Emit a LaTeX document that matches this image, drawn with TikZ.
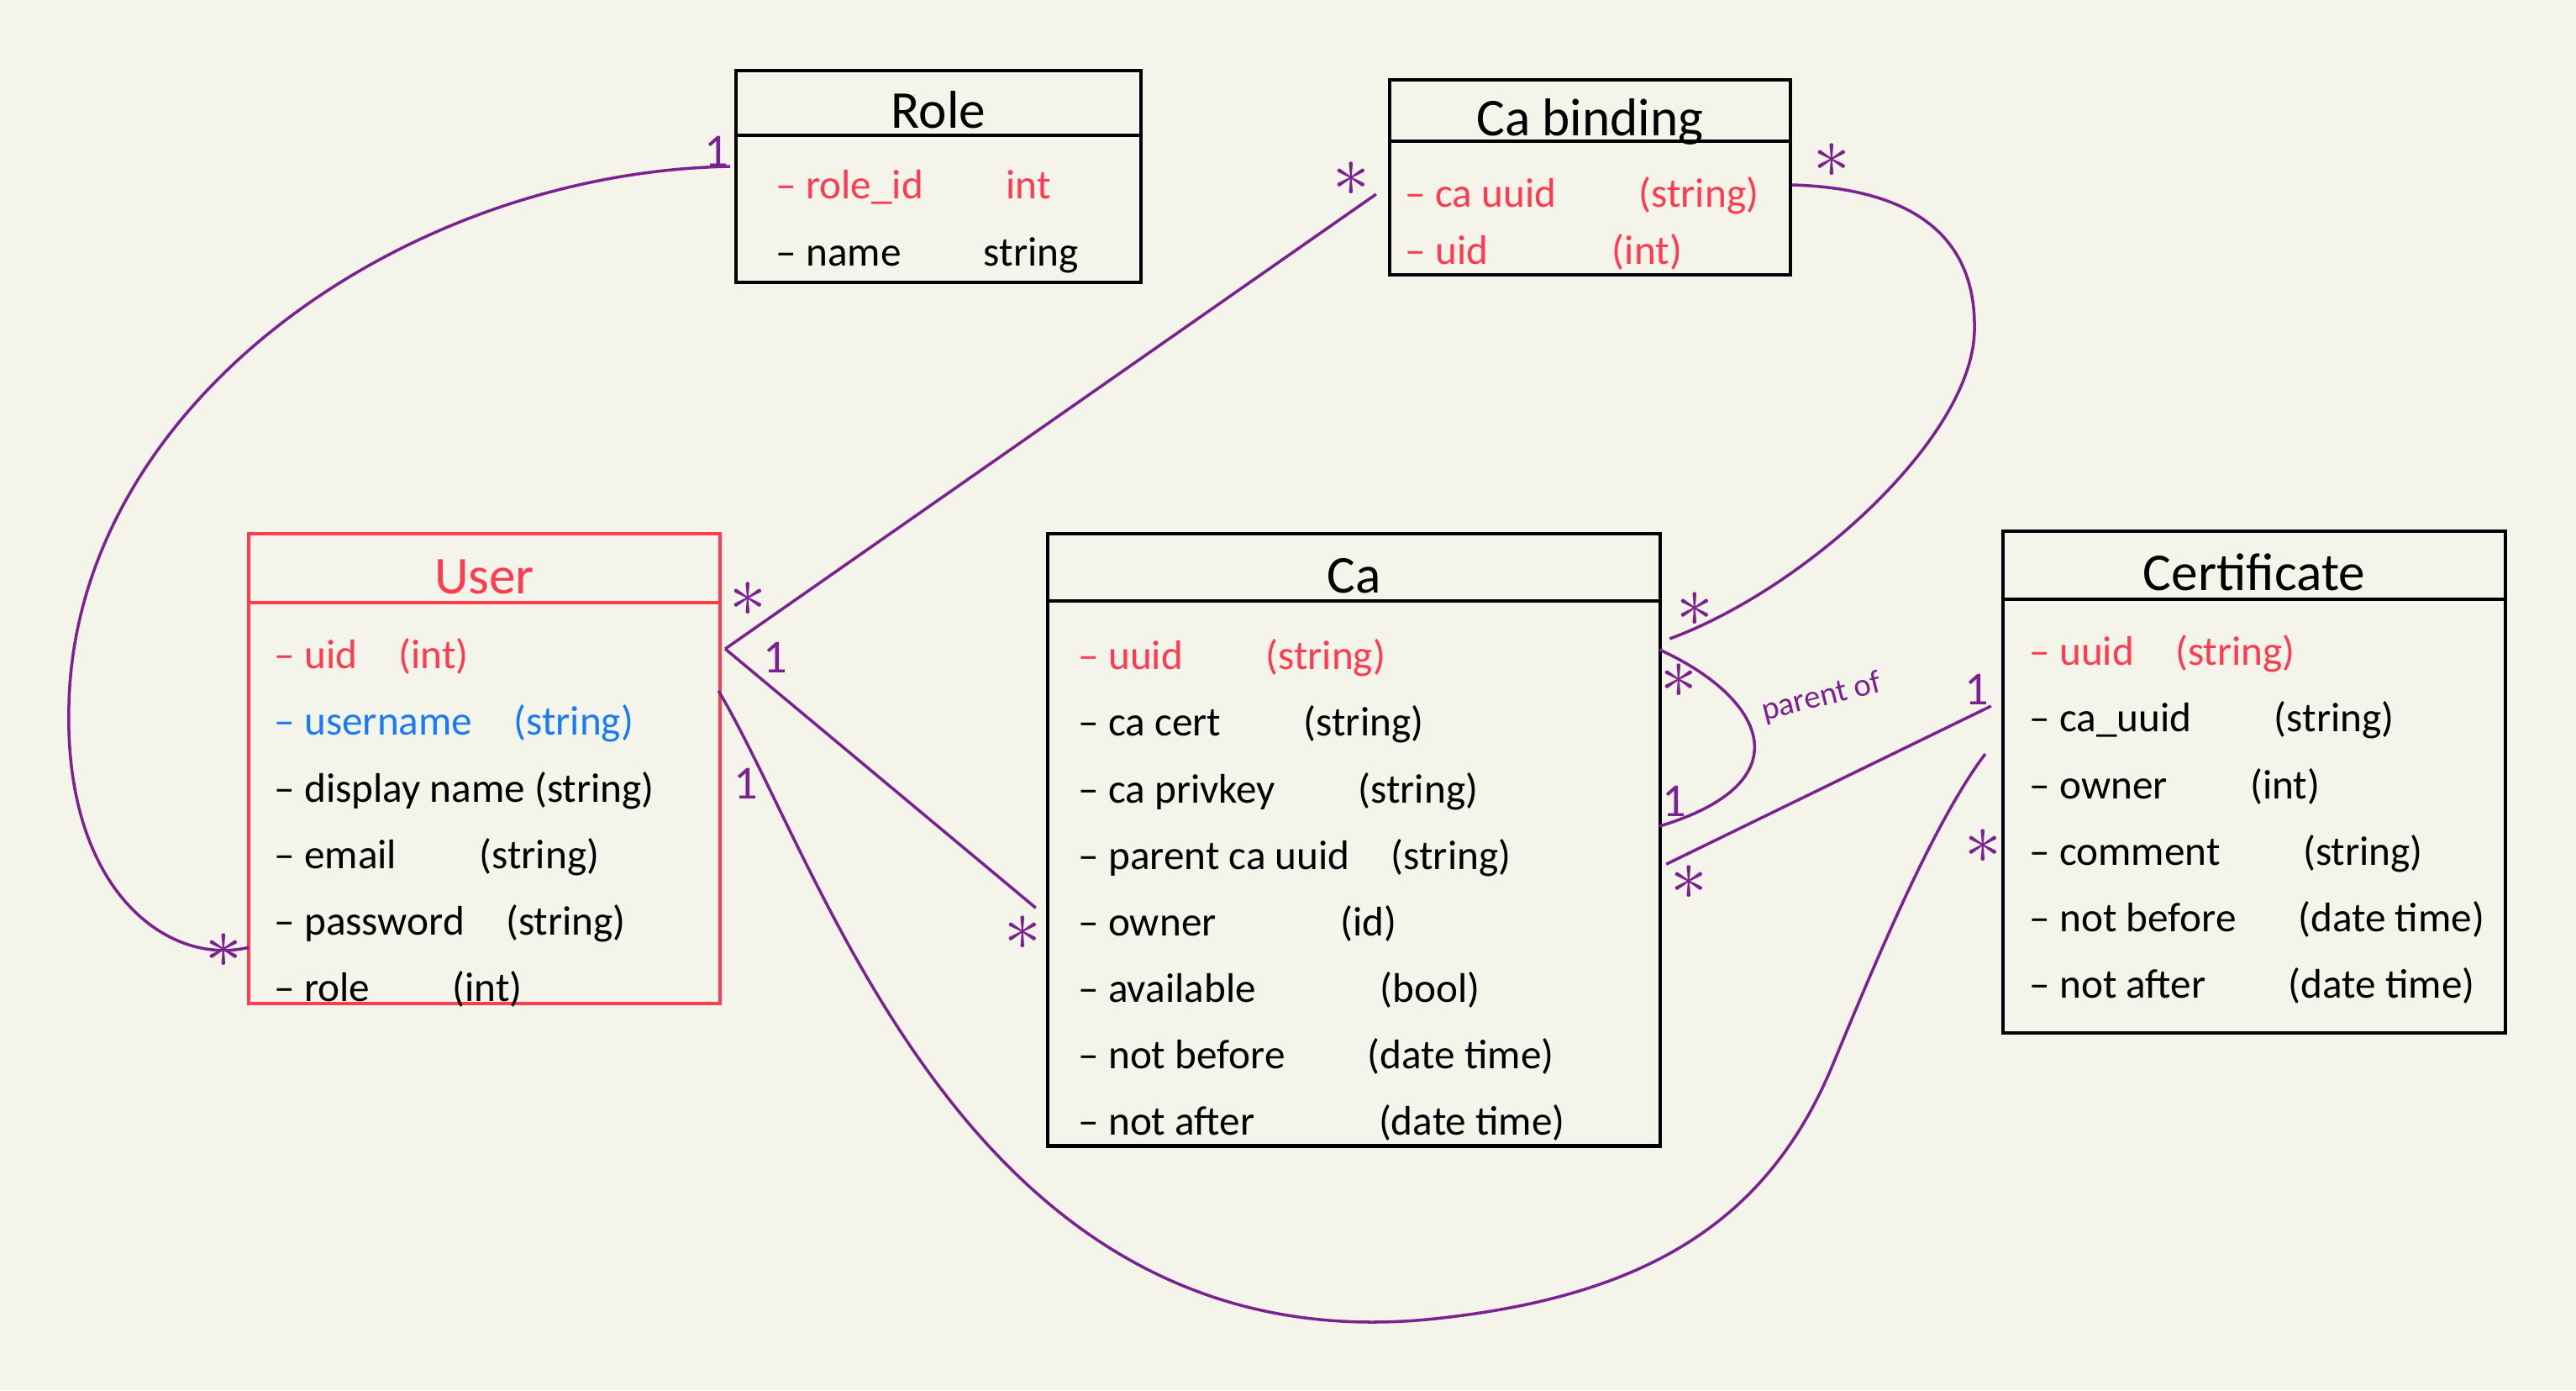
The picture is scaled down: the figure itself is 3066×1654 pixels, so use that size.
\documentclass[tikz,border=0pt]{standalone}
\usepackage{fontspec}
\setmainfont{Carlito}
\usetikzlibrary{positioning}

\definecolor{paper}{HTML}{F5F4EA}
\definecolor{keyred}{HTML}{FF3B4F}
\definecolor{uniqueblue}{HTML}{1A7CF5}
\definecolor{linkpurple}{HTML}{7B2290}

\begin{document}
\begin{tikzpicture}
[x=0.01cm, y=-0.01cm,
% STYLES
% The entityhead style is used to draw the name of each table
entityhead/.style={rectangle, draw, line width=1.2pt, outer sep=0pt, inner ysep=0pt, text height=0.6cm, text depth=0pt, font=\fontsize{18}{20}\selectfont},
% The entitybody style is used to draw the box holding the fields
entitybody/.style={rectangle, draw, line width=1.2pt, outer sep=0pt},
% The fields style is used to write the columns of a table
fields/.style={inner sep=0pt, align=left, font=\fontsize{14}{22.5}\selectfont},
% The relation style is used to draw the links between tables
relation/.style={linkpurple, line width=1pt},
% The onemark and manymark styles are used to write the multiplicities
onemark/.style={text=linkpurple, inner sep=0pt, font=\fontsize{16}{18}\selectfont},
manymark/.style={text=linkpurple, inner sep=0pt, font=\Huge}]

\useasboundingbox[fill=paper] (0,0) rectangle (3066,1654);

% Draw tables
\node [entityhead, minimum width=4.82cm, minimum height=0.77cm] (role-head) at (1117,122.5) {Role};
\node [entitybody, minimum width=4.82cm, minimum height=1.75cm, below=0pt of role-head] (role-body) {};

\node [entityhead, minimum width=4.77cm, minimum height=0.73cm] (cab-head) at (1892.5,131.5) {Ca binding};
\node [entitybody, minimum width=4.77cm, minimum height=1.59cm, below=0pt of cab-head] (cab-body) {};

\node [entityhead, draw=keyred, text=keyred, minimum width=5.61cm, minimum height=0.82cm] (user-head) at (576.5,676) {User};
\node [entitybody, draw=keyred, minimum width=5.61cm, minimum height=4.77cm, below=0pt of user-head] (user-body) {};

\node [entityhead, minimum width=7.29cm, minimum height=0.80cm] (ca-head) at (1611.5,675) {Ca};
\node [entitybody, minimum width=7.29cm, minimum height=6.48cm, below=0pt of ca-head] (ca-body) {};

\node [entityhead, minimum width=5.98cm, minimum height=0.81cm] (cert-head) at (2683,672.5) {Certificate};
\node [entitybody, minimum width=5.98cm, minimum height=5.16cm, below=0pt of cert-head] (cert-body) {};

% Draw fields
\node [fields, below right=0.41cm and 0.47cm of role-body.north west] (role-fields) {\textcolor{keyred}{– role\_id\quad\quad int}\\
– name\quad\quad string};

\node [fields, font=\fontsize{14}{19.4}\selectfont, text=keyred, below right=0.42cm and 0.18cm of cab-body.north west] (cab-fields) {– ca uuid\quad\quad (string)\\
– uid\quad\quad\quad (int)};

\node [fields, below right=0.42cm and 0.30cm of user-body.north west] (user-fields) {\textcolor{keyred}{– uid\quad (int)}\\
\textcolor{uniqueblue}{– username\quad (string)}\\
– display name (string)\\
– email\quad\quad (string)\\
– password\quad (string)\\
– role\quad\quad (int)};

\node [fields, below right=0.45cm and 0.36cm of ca-body.north west] (ca-fields) {\textcolor{keyred}{– uuid\quad\quad (string)}\\
– ca cert\quad\quad (string)\\
– ca privkey\quad\quad (string)\\
– parent ca uuid\quad (string)\\
– owner\quad\quad\quad (id)\\
– available\quad\quad\quad (bool)\\
– not before\quad\quad (date time)\\
– not after\quad\quad\quad (date time)};

\node [fields, below right=0.42cm and 0.31cm of cert-body.north west] (cert-fields) {\textcolor{keyred}{– uuid\quad (string)}\\
– ca\_uuid\quad\quad (string)\\
– owner\quad\quad (int)\\
– comment\quad\quad (string)\\
– not before\quad\enspace (date time)\\
– not after\quad\quad (date time)};

% Draw the relations between tables
\coordinate (user-hub) at ([shift={(6,55)}]user-head.south east);

\draw [relation] ([shift={(-7,37)}]role-head.south west) .. controls (480,205) and (90,480) .. (82,839)
  .. controls (76,1060) and (200,1150) .. ([shift={(0,-67)}]user-body.south west);

\path [relation]
(user-hub) edge ([shift={(-16,63)}]cab-head.south west)
(user-hub) edge ([shift={(-14,41)}]ca-body.west)
([shift={(7,-11)}]ca-body.east) edge ([shift={(-14,127)}]cert-head.south west);

\draw [relation] ([shift={(2,52)}]cab-head.south east) .. controls (2300,225) and (2352,300) .. (2350,393)
  .. controls (2348,520) and (2150,700) .. ([shift={(11,45)}]ca-head.south east);

\draw [relation] ([shift={(-1,58)}]ca-head.south east) .. controls (2100,830) and (2150,930) .. ([shift={(-1,268)}]ca-head.south east);

\draw [relation] ([shift={(-2,105)}]user-head.south east) .. controls (980,1030) and (1150,1620) .. (1698,1570)
  .. controls (1950,1545) and (2100,1460) .. (2180,1270)
  .. controls (2230,1150) and (2300,980) .. ([shift={(-21,184)}]cert-head.south west);

\node [text=linkpurple, inner sep=0pt, rotate=14, font=\fontsize{11}{12}\selectfont] (parent-of) at (2168,830) {parent of};

% Multiplicities
\node [onemark] (role-one) at (853,180) {1};
\node [manymark] (user-role-many) at (266,1131) {$\ast$};
\node [manymark] (user-cab-many) at (890,713) {$\ast$};
\node [onemark] (user-ca-one) at (923,782) {1};
\node [manymark] (cab-user-many) at (1608,213) {$\ast$};
\node [manymark] (ca-user-many) at (1217,1110) {$\ast$};
\node [manymark] (cab-ca-many) at (2180,191) {$\ast$};
\node [manymark] (ca-cab-many) at (2017,725) {$\ast$};
\node [manymark] (ca-child-many) at (1998,810) {$\ast$};
\node [onemark] (ca-parent-one) at (1993,953) {1};
\node [manymark] (ca-cert-many) at (2010,1050) {$\ast$};
\node [onemark] (cert-ca-one) at (2353,820) {1};
\node [onemark] (user-cert-one) at (888,932) {1};
\node [manymark] (cert-user-many) at (2360,1007) {$\ast$};

\end{tikzpicture}
\end{document}
